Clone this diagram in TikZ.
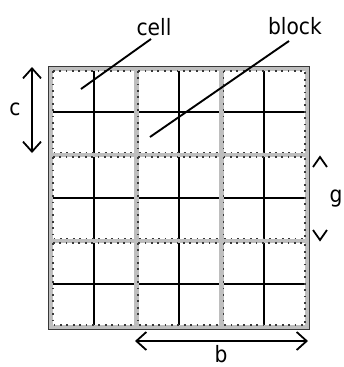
\documentclass[tikz,border=0pt]{standalone}
\usepackage{fontspec}
\setmainfont{DejaVu Sans Condensed}
\usetikzlibrary{arrows.meta}
\definecolor{blockgray}{HTML}{BEBEBE}
\definecolor{dotgray}{HTML}{383838}
\tikzset{
  celllines/.style={black, line width=1.8pt},
  blockband/.style={blockgray, line width=4.6pt},
  blockdots/.style={dotgray, line width=1.8pt, dash pattern=on 1.8pt off 4.6pt},
  outeredge/.style={dotgray, line width=1.2pt},
  lbl/.style={font=\fontsize{22.5}{27}\selectfont, inner sep=0pt, anchor=base},
  leader/.style={black, line width=1.9pt},
  dimarrow/.style={black, line width=1.8pt, {Straight Barb[length=10pt,width=18pt,line width=1.8pt]}-{Straight Barb[length=10pt,width=18pt,line width=1.8pt]}},
  chev/.style={black, line width=1.8pt}
}
\begin{document}
\begin{tikzpicture}[x=1pt,y=-1pt]
\useasboundingbox (0,0) rectangle (344,367);
% grid geometry
\def\xa{51}\def\xb{307}\def\ya{69}\def\yb{327}
% cell lines
\foreach \i in {1,3,5}{
  \draw[celllines] ({\xa+\i*256/6},\ya) -- ({\xa+\i*256/6},\yb);
  \draw[celllines] (\xa,{\ya+\i*258/6}) -- (\xb,{\ya+\i*258/6});
}
% blocks
\foreach \bi in {0,1,2}{
  \foreach \bj in {0,1,2}{
    \pgfmathsetmacro{\lx}{\xa+\bi*256/3}
    \pgfmathsetmacro{\rx}{\xa+(\bi+1)*256/3}
    \pgfmathsetmacro{\ty}{\ya+\bj*258/3}
    \pgfmathsetmacro{\by}{\ya+(\bj+1)*258/3}
    \draw[blockband] (\lx,\ty) rectangle (\rx,\by);
    \draw[blockdots] (\lx+1.8,\ty+1.8) rectangle (\rx-1.8,\by-1.8);
  }
}
\draw[outeredge] (\xa-2.3,\ya-2.3) rectangle (\xb+2.3,\yb+2.3);
% labels
\node[lbl] (cell) at (154,35) {cell};
\node[lbl] (block) at (295,34) {block};
\node[lbl] (c) at (15,115) {c};
\node[lbl] (g) at (336,202) {g};
\node[lbl] (b) at (221,362) {b};
% leader lines
\coordinate (celltip) at (81,89);
\coordinate (celltail) at (151,39);
\coordinate (blocktip) at (150,137);
\coordinate (blocktail) at (289,41);
\draw[leader] (celltail) -- (celltip);
\draw[leader] (blocktail) -- (blocktip);
% dimension arrows
\coordinate (ctop) at (32,67);
\coordinate (cbot) at (32,153);
\draw[dimarrow] (ctop) -- (cbot);
\coordinate (bl) at (135,341);
\coordinate (br) at (308,341);
\draw[dimarrow] (bl) -- (br);
% g chevrons
\coordinate (gtop) at (320,157);
\coordinate (gbot) at (320,240);
\draw[chev] ([xshift=-7pt,yshift=-10pt]gtop) -- (gtop) -- ([xshift=7pt,yshift=-10pt]gtop);
\draw[chev] ([xshift=-7pt,yshift=10pt]gbot) -- (gbot) -- ([xshift=7pt,yshift=10pt]gbot);
\end{tikzpicture}
\end{document}
